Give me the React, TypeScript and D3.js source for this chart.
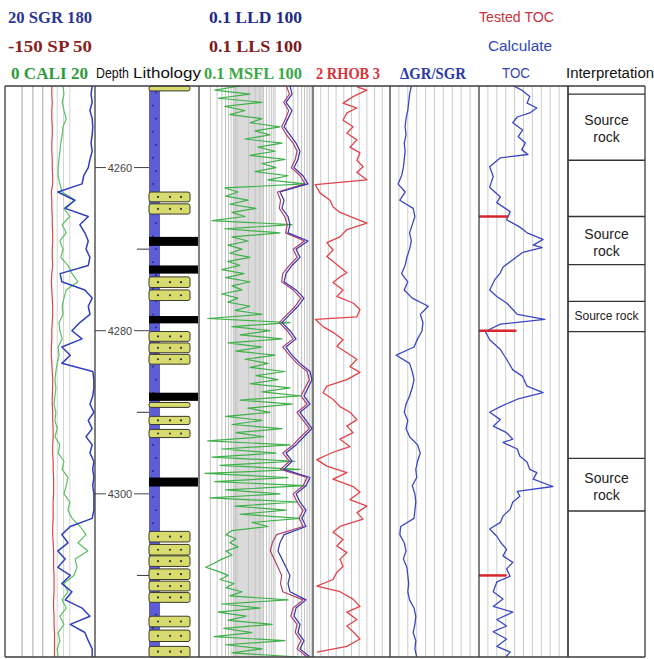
import React, { useRef, useEffect } from 'react';
import * as d3 from 'd3';

// depth grid of the log samples (m)
const depths = d3.range(4250, 4321, 1);
const depthsFine = d3.range(4250, 4320.01, 0.5);

// track 1
const sgr = [175,173,175,171,175,176,175,173,175,171,168,160,157,114,144,127,168,153,162,168,164,171,168,118,121,162,175,168,171,153,139,157,121,136,121,176,178,178,176,171,178,168,175,164,175,171,178,176,178,176,178,178,178,175,136,121,132,114,127,114,136,121,139,127,157,171,136,162,168,175,175];
const sp = [-46,-46,-45,-46,-46,-45,-45,-46,-46,-45,-45,-44,-44,-47,-46,-46,-45,-45,-44,-44,-45,-45,-44,-46,-47,-46,-45,-44,-44,-45,-46,-46,-47,-47,-46,-45,-44,-44,-45,-45,-44,-44,-43,-43,-44,-44,-43,-43,-42,-42,-42,-43,-43,-43,-44,-44,-43,-42,-42,-42,-41,-41,-41,-42,-42,-41,-41,-40,-40,-40,-40];
const cali = [12.9,13.1,12.7,13.1,13.6,12.9,12.7,12.4,12.2,12.0,11.8,11.8,12.2,12.7,15.6,13.1,14.4,12.7,13.6,12.2,12.9,12.4,14.0,14.9,16.2,13.6,13.1,12.7,12.9,12.0,12.2,12.7,11.8,12.0,11.6,11.3,11.1,11.3,11.1,10.9,11.3,11.1,11.6,11.1,12.2,11.8,13.1,12.7,14.0,13.6,13.1,14.4,14.0,14.9,16.7,18.0,16.2,18.4,15.6,16.0,15.3,13.1,14.0,12.7,13.6,12.2,13.1,11.8,12.2,11.6,11.8];

// resistivity track (ohm.m)
const lld = [24.8,28,19.5,28,22,17.3,24.8,35.7,45.5,40.3,31.6,54.6,73.8,13.5,17.3,15.3,22,24.8,22,73.8,35.7,45.5,28,19.5,17.3,35.7,57.9,40.3,24.8,15.3,24.8,35.7,19.5,28,45.5,83.4,94,73.8,57.9,83.4,45.5,65.4,94,57.9,35.7,19.5,28,17.3,83.4,65.4,35.7,45.5,65.4,51.3,65.4,17.3,13.5,12,15.3,19.5,24.8,22,24.8,65.4,35.7,31.6,45.5,40.3,57.9,45.5,83.4];
const lls = [20,24,17,23,19,15,20,30,38,34,27,46,62,11.5,14,13,18,21,19,60,30,38,24,16,15,30,48,34,21,13,21,30,16,24,38,70,80,62,48,70,38,55,80,48,30,16,24,14,70,55,30,38,55,43,55,11,8.5,7.5,9.5,12,15,14,16,55,30,26,38,34,48,38,70];
const msfl = [1.2,0.26,2.2,0.32,4.55,0.48,1.62,0.65,4.55,2.2,13.5,2.98,7.38,1.62,15.3,3.57,10,2.2,18.3,4.55,10.6,2.98,22,6.54,61.6,0.48,1.06,0.51,1.95,0.65,3.16,0.74,1.62,0.22,28,0.48,13.5,0.74,1.95,0.58,1.35,0.65,2.2,0.58,1.2,0.4,1.53,0.51,2.2,0.74,1.35,0.4,1.06,0.58,2.2,0.89,4.55,0.17,24.8,0.74,7.38,1.2,15.3,0.58,4.55,0.94,10,1.62,6.54,2.2,18.3,3.16,12,2.2,24.8,4.55,45.5,1.2,28,1.95,7.38,0.51,4.55,0.74,15.3,0.94,5.13,0.17,24.8,0.4,10.6,0.22,33.6,0.36,45.5,0.144,22,0.26,61.6,0.51,13.5,0.195,40.3,0.89,19.5,1.2,45.5,2.48,6.54,0.74,0.51,0.94,0.65,1.06,0.51,0.74,0.4,0.25,0.15,0.32,0.58,0.36,0.83,0.51,1.35,0.65,22,0.4,4.03,0.32,1.73,0.58,8.34,0.45,2.48,0.25,18.3,0.51,4.55,0.74,45.5];

// density (g/cm3), read at its own depths
const rhobDepth = [4250.1,4250.5,4251.3,4252.1,4252.7,4253.3,4254.2,4255.0,4255.8,4256.6,4257.5,4258.2,4259.1,4259.9,4260.6,4261.5,4262.1,4263.1,4264.0,4264.8,4265.5,4266.8,4267.6,4268.5,4269.2,4270.1,4270.9,4272.2,4272.9,4273.4,4274.1,4275.0,4275.8,4276.6,4277.4,4278.3,4278.6,4279.5,4280.2,4281.1,4281.9,4282.7,4283.5,4284.4,4285.1,4286.0,4286.8,4287.6,4288.4,4289.3,4290.0,4290.9,4291.7,4292.5,4293.3,4294.2,4294.9,4295.8,4296.6,4297.4,4298.2,4299.1,4299.8,4300.7,4301.5,4302.3,4303.1,4304.0,4304.7,4305.6,4306.4,4307.2,4308.0,4308.9,4309.6,4310.5,4311.3,4312.0,4312.9,4313.8,4314.5,4315.4,4316.2,4316.9,4317.8,4318.7,4319.4];
const rhob = [2.57,2.70,2.52,2.39,2.57,2.44,2.39,2.52,2.44,2.57,2.48,2.61,2.57,2.65,2.57,2.70,2.03,2.09,2.22,2.26,2.35,2.70,2.44,2.35,2.18,2.26,2.18,2.35,2.44,2.35,2.26,2.39,2.31,2.52,2.61,2.57,2.03,2.13,2.26,2.39,2.31,2.44,2.57,2.48,2.61,2.44,2.18,2.13,2.26,2.35,2.48,2.57,2.44,2.52,2.35,2.48,2.26,2.05,2.18,2.44,2.26,2.52,2.61,2.48,2.70,2.57,2.65,2.35,2.26,2.39,2.31,2.44,2.35,2.39,2.31,2.26,2.05,2.35,2.52,2.61,2.44,2.57,2.44,2.52,2.61,2.44,2.05];

// ΔGR/SGR
const dgr = [0.24,0.22,0.21,0.20,0.18,0.17,0.18,0.16,0.17,0.16,0.15,0.13,0.09,0.17,0.11,0.26,0.28,0.25,0.22,0.24,0.22,0.19,0.17,0.13,0.20,0.16,0.25,0.43,0.34,0.37,0.36,0.31,0.27,0.07,0.22,0.25,0.27,0.25,0.22,0.18,0.16,0.20,0.18,0.22,0.31,0.34,0.31,0.29,0.30,0.25,0.28,0.29,0.28,0.27,0.12,0.11,0.16,0.18,0.15,0.19,0.20,0.21,0.20,0.22,0.27,0.29,0.28,0.26,0.29,0.28,0.30];

// calculated TOC (%), read at its own depths
const tocDepth = [4250.0,4250.5,4251.3,4252.1,4252.7,4253.3,4253.8,4254.5,4255.4,4256.2,4257.0,4257.8,4258.4,4258.8,4259.9,4261.1,4262.4,4263.6,4264.3,4265.4,4266.4,4267.3,4268.0,4268.8,4269.5,4269.8,4270.4,4271.3,4272.2,4272.9,4273.7,4275.0,4275.8,4276.6,4277.4,4278.0,4278.6,4279.2,4280.1,4281.1,4282.3,4283.5,4284.8,4285.6,4286.8,4287.6,4288.4,4289.3,4290.0,4290.9,4291.7,4292.5,4293.3,4293.7,4294.5,4295.4,4296.1,4297.0,4297.4,4298.2,4299.1,4299.7,4300.3,4301.0,4301.9,4302.7,4303.5,4304.3,4305.2,4305.9,4306.8,4307.6,4308.4,4309.2,4310.1,4310.8,4312.0,4312.9,4313.8,4314.5,4315.4,4316.2,4316.9,4317.8,4318.7,4319.4,4320.0];
const tocCalc = [3.9,4.8,5.7,5.4,6.5,5.7,4.3,3.8,4.9,4.4,5.2,4.8,5.5,2.4,1.2,1.6,1.2,2.4,2.0,3.5,3.1,4.6,5.4,7.2,6.1,7.1,4.9,3.8,2.7,2.4,1.8,1.2,2.0,3.1,3.8,4.3,7.4,2.4,0.7,1.2,2.4,3.1,3.8,4.9,5.4,7.2,4.3,2.4,1.2,2.4,1.6,3.1,3.8,2.7,4.3,4.6,5.4,5.7,6.5,6.1,8.3,4.3,4.6,3.8,3.5,2.7,2.4,1.2,2.0,2.4,3.1,2.7,3.8,3.1,3.5,2.0,1.6,2.7,1.6,3.8,2.0,3.1,1.6,3.1,2.0,3.5,3.0];
const testedDepth = [4266.0, 4280.0, 4310.0];
const testedToc = [3.3, 4.2, 3.1];

// lithology
const sandTop = [4250.0, 4263.0, 4264.45, 4273.4, 4275.0, 4280.1, 4281.5, 4282.9, 4288.8, 4290.5, 4292.1, 4304.6, 4306.2, 4307.6, 4309.2, 4310.7, 4312.1, 4315.0, 4316.7, 4318.7];
const sandBase = [4250.6, 4264.2, 4265.7, 4274.7, 4276.3, 4281.3, 4282.7, 4284.1, 4289.4, 4291.5, 4293.1, 4305.9, 4307.5, 4308.9, 4310.5, 4311.9, 4313.3, 4316.3, 4318.1, 4320.0];
const coalTop = [4268.5, 4272.0, 4278.2, 4287.6, 4298.0];
const coalBase = [4269.6, 4273.0, 4279.1, 4288.6, 4299.1];

// interpretation
const interpTop = [4251.0, 4266.0, 4276.4, 4295.65];
const interpBase = [4259.1, 4271.9, 4280.1, 4302.1];
const interpLabel = 'Source rock';

const depthMajor = [4260, 4280, 4300];
const depthMinor = [4270, 4290, 4310];

const track1Labels = ['20 SGR 180', '-150 SP 50', '0 CALI 20'];
const track3Labels = ['0.1 LLD 100', '0.1 LLS 100', '0.1 MSFL 100'];

const App = () => {
    const svgRef = useRef<SVGSVGElement | null>(null);

    useEffect(() => {
        const svg = d3.select(svgRef.current);
        svg.selectAll('*').remove();

        const top = 86, bottom = 657;
        const y = d3.scaleLinear().domain([4250, 4320]).range([top, bottom]);

        const T: Record<string, [number, number]> = {
            t1: [5, 95], depth: [95, 149], lith: [149, 199], res: [199, 313],
            den: [313, 390], dgr: [390, 479], toc: [479, 568], interp: [568, 645],
        };

        const sgrX = d3.scaleLinear().domain([20, 180]).range(T.t1);
        const spX = d3.scaleLinear().domain([-150, 50]).range(T.t1);
        const caliX = d3.scaleLinear().domain([0, 20]).range(T.t1);
        const resX = d3.scaleLog().domain([0.1, 100]).range(T.res);
        const rhobX = d3.scaleLinear().domain([2, 3]).range(T.den);
        const dgrX = d3.scaleLinear().domain([0, 1]).range(T.dgr);
        const tocX = d3.scaleLinear().domain([0, 10]).range(T.toc);

        svg.append('rect').attr('width', 654).attr('height', 659).attr('fill', '#fff');

        // clip paths
        const defs = svg.append('defs');
        Object.entries(T).forEach(([k, r]) => {
            defs.append('clipPath').attr('id', `clip-${k}`)
                .append('rect').attr('x', r[0]).attr('y', top).attr('width', r[1] - r[0]).attr('height', bottom - top);
        });

        const vlines = (xs: number[], color: string, w: number) => {
            svg.append('g').selectAll('line').data(xs).enter().append('line')
                .attr('x1', d => d).attr('x2', d => d)
                .attr('y1', top).attr('y2', bottom)
                .attr('stroke', color).attr('stroke-width', w);
        };

        // grids
        vlines([3.8, 6.2, 8.4].map(caliX), '#bdbdbd', 1.4);
        vlines([11.6, 13, 14.4].map(caliX), '#d4d4d4', 1);

        svg.append('rect')
            .attr('x', resX(0.8)).attr('y', top)
            .attr('width', resX(5) - resX(0.8)).attr('height', bottom - top)
            .attr('fill', '#dadada');
        vlines(resX.ticks().filter(v => v > 0.1 && v < 100).map(resX), '#c4c4c4', 1);
        vlines(d3.range(2.1, 3, 0.1).map(rhobX), '#cccccc', 1);
        vlines(d3.range(0.1, 1, 0.1).map(dgrX), '#cccccc', 1);
        vlines(d3.range(1, 10, 1).map(tocX), '#cccccc', 1);

        // curve helper
        const curve = (vals: number[], ds: number[], xs: (v: number) => number, color: string, w: number, clip: string) => {
            const line = d3.line<number>()
                .x(d => xs(d))
                .y((d, i) => y(ds[i]));
            svg.append('path')
                .datum(vals)
                .attr('clip-path', `url(#clip-${clip})`)
                .attr('d', line)
                .attr('fill', 'none')
                .attr('stroke', color)
                .attr('stroke-width', w)
                .attr('stroke-linejoin', 'round');
        };

        curve(sp, depths, spX, '#d9474a', 1.2, 't1');
        curve(cali, depths, caliX, '#5cbf62', 1.2, 't1');
        curve(sgr, depths, sgrX, '#2f3fc0', 1.5, 't1');

        curve(msfl, depthsFine, resX, '#3fb14a', 1.2, 'res');
        curve(lls, depths, resX, '#b0406a', 1.2, 'res');
        curve(lld, depths, resX, '#3535b5', 1.2, 'res');

        curve(rhob, rhobDepth, rhobX, '#e2434a', 1.3, 'den');
        curve(dgr, depths, dgrX, '#3a48c4', 1.3, 'dgr');
        curve(tocCalc, tocDepth, tocX, '#3a48c4', 1.3, 'toc');

        // tested TOC
        svg.append('g').selectAll('line').data(testedToc).enter().append('line')
            .attr('x1', tocX(0)).attr('x2', d => tocX(d))
            .attr('y1', (d, i) => y(testedDepth[i])).attr('y2', (d, i) => y(testedDepth[i]))
            .attr('stroke', '#d8262e').attr('stroke-width', 2.5);

        // lithology column
        svg.append('rect')
            .attr('x', T.lith[0]).attr('y', top).attr('width', 11).attr('height', bottom - top)
            .attr('fill', '#5e5ed4');
        svg.append('g').selectAll('circle').data(d3.range(4250.8, 4320, 1.6)).enter().append('circle')
            .attr('cx', (d, i) => T.lith[0] + (i % 2 ? 4 : 7)).attr('cy', d => y(d))
            .attr('r', 0.9).attr('fill', '#22225a');

        const sand = svg.append('g');
        sandTop.forEach((t, i) => {
            const y0 = y(t), y1 = y(sandBase[i]);
            sand.append('rect')
                .attr('x', T.lith[0]).attr('y', y0).attr('width', 41).attr('height', y1 - y0)
                .attr('rx', 2).attr('fill', '#d8db6e').attr('stroke', '#3a3a2a').attr('stroke-width', 1);
            if (y1 - y0 > 5) {
                [9, 21, 32].forEach(dx => {
                    sand.append('circle').attr('cx', T.lith[0] + dx).attr('cy', (y0 + y1) / 2)
                        .attr('r', 1.1).attr('fill', '#333');
                });
            }
        });
        svg.append('g').selectAll('rect').data(coalTop).enter().append('rect')
            .attr('x', T.lith[0]).attr('y', d => y(d))
            .attr('width', 49).attr('height', (d, i) => y(coalBase[i]) - y(d))
            .attr('fill', '#000');

        // depth track ticks
        depthMajor.forEach(d => {
            svg.append('line').attr('x1', T.depth[0]).attr('x2', 106).attr('y1', y(d)).attr('y2', y(d)).attr('stroke', '#444');
            svg.append('line').attr('x1', 134).attr('x2', T.depth[1]).attr('y1', y(d)).attr('y2', y(d)).attr('stroke', '#444');
            svg.append('text').attr('x', 120).attr('y', y(d) + 4)
                .attr('text-anchor', 'middle').attr('font-family', 'Liberation Sans, Arial')
                .attr('font-size', 11).attr('fill', '#444').text(d);
        });
        depthMinor.forEach(d => {
            svg.append('line').attr('x1', 137).attr('x2', T.depth[1]).attr('y1', y(d)).attr('y2', y(d)).attr('stroke', '#333');
        });

        // interpretation boxes
        const ib = svg.append('g');
        interpTop.forEach((t, i) => {
            const y0 = y(t), y1 = y(interpBase[i]);
            [y0, y1].forEach(yy => ib.append('line').attr('x1', T.interp[0]).attr('x2', T.interp[1])
                .attr('y1', yy).attr('y2', yy).attr('stroke', '#333').attr('stroke-width', 1.3));
            const cx = (T.interp[0] + T.interp[1]) / 2, cy = (y0 + y1) / 2;
            const txt = ib.append('text').attr('text-anchor', 'middle')
                .attr('font-family', 'Liberation Sans, Arial').attr('fill', '#222');
            if (y1 - y0 < 40) {
                txt.attr('x', cx).attr('y', cy + 4).attr('font-size', 12).text(interpLabel);
            } else {
                txt.attr('font-size', 14);
                interpLabel.split(' ').forEach((w, j) => {
                    txt.append('tspan').attr('x', cx).attr('y', cy - 2 + j * 17).text(w);
                });
            }
        });

        // frame
        vlines([5, T.t1[1], T.lith[1], T.res[1], T.den[1], T.dgr[1], T.toc[1], T.interp[0], T.interp[1]], '#3c3c3c', 1.3);
        svg.append('line').attr('x1', 5).attr('x2', T.interp[1]).attr('y1', top).attr('y2', top).attr('stroke', '#3c3c3c').attr('stroke-width', 1.3);
        svg.append('line').attr('x1', 5).attr('x2', T.interp[1]).attr('y1', bottom).attr('y2', bottom).attr('stroke', '#3c3c3c').attr('stroke-width', 1.3);

        // header
        const label = (text: string, x0: number, x1: number, cy: number, color: string, serif: boolean, size: number) => {
            svg.append('text')
                .attr('x', (x0 + x1) / 2).attr('y', cy + size * 0.35)
                .attr('text-anchor', 'middle')
                .attr('font-family', serif ? 'Liberation Serif, serif' : 'Liberation Sans, Arial')
                .attr('font-weight', serif ? 'bold' : 'normal')
                .attr('font-size', size)
                .attr('fill', color)
                .attr('textLength', x1 - x0).attr('lengthAdjust', 'spacingAndGlyphs')
                .text(text);
        };
        const rows = [17, 46, 73];
        const t1Colors = ['#2a3596', '#8a1f22', '#2f9a3c'];
        const t3Colors = ['#1f2a8a', '#7d1a1e', '#3aa846'];
        track1Labels.forEach((l, i) => label(l, i === 2 ? 11 : 8, i === 2 ? 88 : 92, rows[i], t1Colors[i], true, 17));
        track3Labels.forEach((l, i) => label(l, i === 2 ? 204 : 209, 302, rows[i], t3Colors[i], true, 17));
        label('Depth', 96, 129, rows[2], '#111', false, 15);
        label('Lithology', 133, 201, rows[2], '#111', false, 15);
        label('2 RHOB 3', 316, 380, rows[2], '#d8343a', true, 17);
        label('\u0394GR/SGR', 400, 466, rows[2], '#2a3aa8', true, 17);
        label('TOC', 502, 530, rows[2], '#3046b8', false, 14);
        label('Interpretation', 566, 654, rows[2], '#111', false, 14);
        label('Tested TOC', 479, 554, rows[0], '#c8323a', false, 14);
        label('Calculate', 488, 552, rows[1], '#3046b8', false, 14);
    }, []);

    return (
        <svg ref={svgRef} width={654} height={659}
            style={{ position: 'absolute', left: 0, top: 0, display: 'block' }} />
    );
};

export default App;
